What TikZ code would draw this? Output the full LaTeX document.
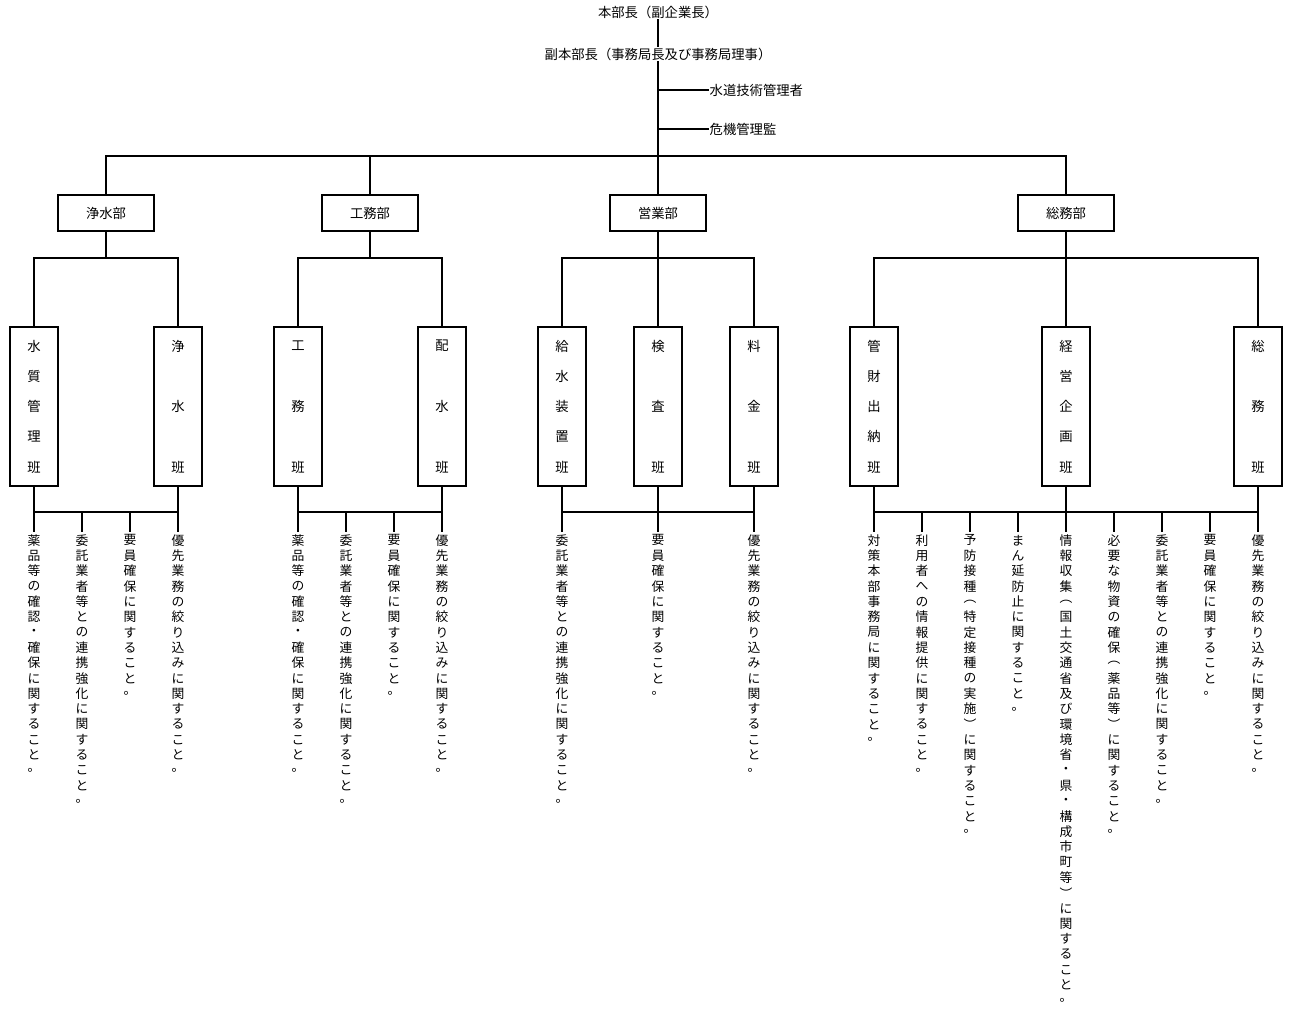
\documentclass[tikz,border=0pt]{standalone}
\usepackage{fontspec}
\setmainfont{Noto Sans CJK JP}
\ExplSyntaxOn
\tl_new:N \l_vt_tl
\NewDocumentCommand\vt{O{11.5pt}m}{\tl_set:Ne \l_vt_tl {#2}\vbox{\offinterlineskip\tl_map_inline:Nn \l_vt_tl {\hbox to 1.2em{\hss\vbox to #1{\vss\hbox{##1}\vss}\hss}}}}
\ExplSyntaxOff
\begin{document}
\begin{tikzpicture}[x=0.75pt,y=-0.75pt,line width=1.1pt,
  dept/.style={draw,line width=0.9pt,minimum width=72pt,minimum height=27pt,inner sep=0,font=\fontsize{10}{12}\selectfont},
  team/.style={draw,line width=0.9pt,minimum width=36pt,minimum height=119.25pt,inner sep=0},
  lbl/.style={inner sep=0,font=\fontsize{10}{12}\selectfont},
  duty/.style={inner sep=0,anchor=north,font=\fontsize{9.6}{12}\selectfont}]
\useasboundingbox (0,0) rectangle (1290,1010);
\node[lbl] (top) at (658,12) {本部長（副企業長）};
\node[lbl,fill=white] (sub) at (658,54) {副本部長（事務局長及び事務局理事）};
\node[lbl,anchor=west] (gijutsu) at (709,90) {水道技術管理者};
\node[lbl,anchor=west] (kiki) at (709,129) {危機管理監};
% departments
\node[dept] (jd) at (106,213) {浄水部};
\node[dept] (kd) at (370,213) {工務部};
\node[dept] (ed) at (658,213) {営業部};
\node[dept] (sd) at (1066,213) {総務部};
\coordinate (trunk) at (658,156);
\draw (top.south) -- (sub.north);
\draw (sub.south) -- (ed.north);
\draw (658,90) -- (gijutsu.west);
\draw (658,129) -- (kiki.west);
\draw (jd.north) |- (trunk) -| (sd.north);
\draw (kd.north) -- (kd.north |- trunk);
% teams
\foreach \n/\x/\t/\p in {t1/34/水質管理班/22.7pt, t2/178/浄水班/45.4pt, t3/298/工務班/45.4pt, t4/442/配水班/45.4pt,
  t5/562/給水装置班/22.7pt, t6/658/検査班/45.4pt, t7/754/料金班/45.4pt, t8/874/管財出納班/22.7pt,
  t9/1066/経営企画班/22.7pt, t10/1258/総務班/45.4pt}{
  \node[team] (\n) at (\x,406.5) {};
  \node[lbl] (\n l) at (\n) {\vt[\p]{\t}};
}
\draw (jd.south) -- (106,258);
\draw (t1.north) |- (106,258) -| (t2.north);
\draw (kd.south) -- (370,258);
\draw (t3.north) |- (370,258) -| (t4.north);
\draw (ed.south) -- (t6.north);
\draw (t5.north) |- (658,258) -| (t7.north);
\draw (sd.south) -- (t9.north);
\draw (t8.north) |- (1066,258) -| (t10.north);
% duties
\def\dA{薬品等の確認・確保に関すること。}
\def\dB{委託業者等との連携強化に関すること。}
\def\dC{要員確保に関すること。}
\def\dD{優先業務の絞り込みに関すること。}
\foreach \n/\x/\t in {a1/34/\dA, a2/82/\dB, a3/130/\dC, a4/178/\dD,
  b1/298/\dA, b2/346/\dB, b3/394/\dC, b4/442/\dD,
  c1/562/\dB, c2/658/\dC, c3/754/\dD,
  d1/874/対策本部事務局に関すること。, d2/922/利用者への情報提供に関すること。,
  d3/970/予防接種︵特定接種の実施︶に関すること。, d4/1018/まん延防止に関すること。,
  d5/1066/情報収集︵国土交通省及び環境省・県・構成市町等︶に関すること。,
  d6/1114/必要な物資の確保︵薬品等︶に関すること。, d7/1162/\dB, d8/1210/\dC, d9/1258/\dD}{
  \node[duty] (\n) at (\x,532) {\vt{\t}};
  \draw (\x,512) -- (\n.north);
}
\draw (t1.south) -- (a1.north); \draw (t2.south) -- (a4.north); \draw (a1.north |- 0,512) -- (a4.north |- 0,512);
\draw (t3.south) -- (b1.north); \draw (t4.south) -- (b4.north); \draw (b1.north |- 0,512) -- (b4.north |- 0,512);
\draw (t5.south) -- (c1.north); \draw (t6.south) -- (c2.north); \draw (t7.south) -- (c3.north); \draw (c1.north |- 0,512) -- (c3.north |- 0,512);
\draw (t8.south) -- (d1.north); \draw (t9.south) -- (d5.north); \draw (t10.south) -- (d9.north); \draw (d1.north |- 0,512) -- (d9.north |- 0,512);
\end{tikzpicture}
\end{document}
